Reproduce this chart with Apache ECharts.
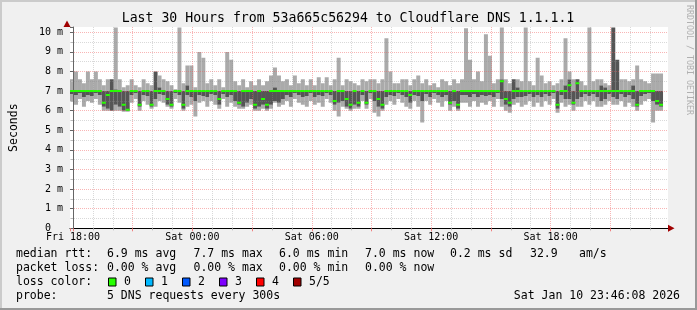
<!DOCTYPE html>
<html><head><meta charset="utf-8">
<script src="https://cdn.jsdelivr.net/npm/echarts@6/dist/echarts.min.js"></script>
<style>html,body{margin:0;padding:0;background:#f0f0f0}#c{width:697px;height:310px}</style>
</head><body><div id="c"></div>
<script>
// ---- data (hours relative to Fri 18:00, one column per 12 min) ----
const START_H = -0.15;
const STEP_H = 0.2;
const xTickLabels = {0:'Fri 18:00', 6:'Sat 00:00', 12:'Sat 06:00', 18:'Sat 12:00', 24:'Sat 18:00'};
const yTickLabels = [0,1,2,3,4,5,6,7,8,9,10];
// values in ms
const maxv = [7.6,8.0,7.6,7.4,8.0,7.6,8.0,7.6,7.3,7.6,7.6,10.25,7.6,7.2,7.3,7.6,7.3,7.2,7.6,7.4,
7.3,8.0,7.8,7.6,7.5,7.3,7.1,10.25,7.4,8.3,8.3,7.2,9.0,8.7,7.4,7.6,7.3,7.6,7.2,9.0,
8.6,7.5,7.3,7.6,7.2,7.5,7.3,7.6,7.3,7.5,7.8,8.2,7.8,7.5,7.6,7.3,7.8,7.4,7.6,7.3,
7.6,7.3,7.7,7.4,7.7,7.3,7.6,8.7,7.3,7.6,7.5,7.4,7.3,7.6,7.5,7.6,7.6,7.4,7.6,9.7,
8.0,7.4,7.4,7.6,7.6,7.3,7.6,7.8,7.4,7.6,7.3,7.4,7.2,7.6,7.5,7.3,7.6,7.4,7.6,10.2,
8.6,7.6,8.0,7.5,9.9,8.8,7.4,7.6,10.25,7.6,7.4,7.6,7.6,7.5,10.25,7.5,7.3,8.7,7.8,7.4,
7.5,7.3,7.4,7.6,9.7,8.0,7.6,7.6,7.5,7.3,10.25,7.5,7.6,7.6,7.4,7.3,10.25,8.6,7.6,7.6,
7.5,7.6,8.3,7.6,7.5,7.4,7.9,7.9,7.9];
const q3v = [7.0,7.0,7.0,7.0,7.0,7.0,7.0,7.0,7.0,7.0,7.6,7.1,7.0,7.0,7.0,7.0,7.0,7.0,7.0,7.0,
7.0,8.0,7.2,7.0,7.0,7.0,7.0,7.0,7.0,7.3,7.0,7.0,7.0,7.0,7.0,7.0,7.0,7.0,7.0,7.0,
7.0,7.0,7.0,7.0,7.0,7.0,7.0,7.0,7.0,7.0,7.0,7.2,7.0,7.0,7.0,7.0,7.0,7.0,7.0,7.0,
7.0,7.0,7.0,7.0,7.0,7.0,7.0,7.0,7.0,7.0,7.0,7.0,7.0,7.0,7.0,7.0,7.0,7.0,7.0,7.0,
7.0,7.0,7.0,7.0,7.0,7.0,7.0,7.0,7.0,7.0,7.0,7.0,7.0,7.0,7.0,7.0,7.0,7.0,7.0,7.0,
7.0,7.0,7.0,7.0,7.0,7.0,7.0,7.0,7.6,7.0,7.0,7.6,7.2,7.0,7.0,7.0,7.0,7.0,7.0,7.0,
7.0,7.0,7.0,7.0,7.3,7.6,7.0,7.6,7.0,7.0,7.0,7.0,7.0,7.3,7.2,7.0,10.25,8.6,7.0,7.0,
7.0,7.3,7.0,7.0,7.0,7.0,7.0,7.0,7.0];
const medv = [7.0,7.0,7.0,7.0,7.0,7.0,7.0,7.0,6.4,6.8,7.0,7.0,7.0,6.3,6.05,7.0,7.0,6.3,7.0,7.0,
6.3,7.0,7.0,7.0,6.6,6.3,7.0,7.0,6.3,7.0,7.0,7.0,7.0,7.0,7.0,7.0,7.0,6.6,7.0,7.0,
7.0,7.0,6.4,7.0,7.0,7.0,6.3,7.0,6.6,6.3,7.0,7.0,7.0,7.0,7.0,7.0,7.0,7.0,7.0,7.0,
7.0,7.0,7.0,7.0,7.0,7.0,6.5,7.0,7.0,6.6,6.3,7.0,6.4,7.0,6.4,7.0,7.0,6.6,6.3,7.0,
7.0,7.0,7.0,7.0,7.0,6.8,7.0,7.0,7.0,7.0,7.0,7.0,7.0,7.0,7.0,6.4,7.0,6.3,7.0,7.0,
7.0,7.0,7.0,7.0,7.0,7.0,7.0,7.0,7.5,6.6,6.4,7.0,7.0,7.0,7.0,7.0,7.0,7.0,7.0,7.0,
7.0,7.0,6.3,7.0,7.0,7.3,6.4,7.4,7.0,7.0,7.0,7.0,7.0,7.0,7.0,7.0,7.0,7.0,7.0,7.0,
7.0,7.0,6.3,7.0,7.0,7.0,7.0,6.5,6.3];
const q1v = [6.85,6.8,6.9,6.7,6.8,6.75,6.9,6.8,6.2,6.1,
6.0,6.3,6.2,6.0,6.0,6.8,6.9,6.2,6.8,6.75,
6.2,6.6,6.85,6.8,6.3,6.2,6.9,6.8,6.1,6.8,
6.7,6.5,6.8,6.75,6.7,6.85,6.8,6.3,6.85,6.7,
6.8,6.5,6.3,6.2,6.4,6.6,6.1,6.2,6.3,6.1,
6.3,6.5,6.4,6.6,6.8,6.7,6.9,6.8,6.7,6.75,
6.9,6.7,6.8,6.75,6.9,6.8,6.3,6.4,6.5,6.2,
6.1,6.3,6.2,6.8,6.3,6.9,6.5,6.2,6.1,6.7,
6.8,6.75,6.9,6.8,6.7,6.4,6.8,6.75,6.5,6.85,
6.7,6.9,6.8,6.7,6.8,6.3,6.5,6.1,6.8,6.8,
6.7,6.85,6.7,6.8,6.75,6.8,6.7,6.9,6.6,6.3,
6.2,6.6,6.7,6.7,6.75,6.85,6.7,6.8,6.7,6.85,
6.75,6.9,6.1,6.8,6.6,6.6,6.3,6.6,6.7,6.85,
6.75,6.85,6.7,6.5,6.6,6.85,6.7,6.6,6.85,6.7,
6.8,6.6,6.2,6.75,6.85,6.9,6.5,6.3,6.2];
const minv = [6.5,6.3,6.6,6.2,6.5,6.4,6.6,6.3,6.0,6.0,
6.0,6.0,6.0,5.95,5.95,6.4,6.6,6.0,6.5,6.3,
6.1,6.2,6.5,6.4,6.2,6.1,6.6,6.4,6.0,6.2,
6.3,5.7,6.4,6.5,6.2,6.5,6.3,6.1,6.6,6.2,
6.4,6.2,6.1,6.1,6.2,6.3,6.0,6.0,6.1,6.0,
6.1,6.4,6.2,6.3,6.5,6.2,6.6,6.4,6.3,6.2,
6.5,6.3,6.4,6.2,6.6,6.4,6.0,5.7,6.2,6.1,
6.0,6.1,6.1,6.5,6.1,6.6,5.9,5.7,6.0,6.3,
6.5,6.3,6.6,6.4,6.2,6.1,6.5,6.2,5.4,6.5,
6.3,6.6,6.4,6.2,6.5,6.0,6.2,6.0,6.4,6.4,
6.2,6.5,6.2,6.4,6.3,6.5,6.2,6.6,6.2,6.0,
5.9,6.3,6.4,6.2,6.3,6.5,6.2,6.4,6.2,6.5,
6.3,6.6,5.9,6.4,6.2,6.3,6.0,6.2,6.2,6.5,
6.3,6.5,6.2,6.2,6.3,6.5,6.3,6.3,6.5,6.2,
6.4,6.2,6.0,6.3,6.5,6.6,5.4,6.0,6.0];
const lossv = maxv.map(() => 0); // 0 of 5 lost for every column
const lossColors = ['#26ff00','#00b8ff','#0059ff','#7e00ff','#ff0000','#a10000'];
const lossLabels = ['0','1','2','3','4','5/5'];

// ---- build data tables ----
const smokeData = maxv.map((mx, i) => {
  const t0 = START_H + STEP_H * i;
  return [t0, t0 + STEP_H, minv[i], q1v[i], q3v[i], mx];
});
const medData = medv.map((m, i) => {
  const t0 = START_H + STEP_H * i;
  return [t0, t0 + STEP_H, m, lossv[i]];
});

const MONO = 'DejaVu Sans Mono';
const LIGHT = '#aaaaaa', DARK = '#555555';

function smokeItem(params, api) {
  const t0 = api.value(0), t1 = api.value(1);
  const vals = [api.value(2), api.value(3), api.value(4), api.value(5)];
  const cols = [LIGHT, DARK, LIGHT];
  const children = [];
  for (let k = 0; k < 3; k++) {
    if (vals[k + 1] <= vals[k]) continue;
    const p0 = api.coord([t0, vals[k + 1]]);
    const p1 = api.coord([t1, vals[k]]);
    children.push({type: 'rect', shape: {x: p0[0], y: p0[1], width: p1[0] - p0[0], height: p1[1] - p0[1]}, style: {fill: cols[k]}});
  }
  return {type: 'group', children};
}
function medItem(params, api) {
  const p0 = api.coord([api.value(0), api.value(2)]);
  const p1 = api.coord([api.value(1), api.value(2)]);
  return {type: 'line', shape: {x1: p0[0], y1: p0[1], x2: p1[0], y2: p1[1]},
    style: {stroke: lossColors[api.value(3)], lineWidth: 2}};
}

const chart = echarts.init(document.getElementById('c'), null, {renderer: 'canvas'});

const legendRows = [
  {y: 254.5, items: [[16,'median rtt:'],[107,'6.9 ms avg'],[193.5,'7.7 ms max'],[279,'6.0 ms min'],[365,'7.0 ms now'],[450,'0.2 ms sd'],[530,'32.9'],[579,'am/s']]},
  {y: 268, items: [[16,'packet loss:'],[107,'0.00 % avg'],[193.5,'0.00 % max'],[279,'0.00 % min'],[365,'0.00 % now']]},
  {y: 282, items: [[16,'loss color:']]},
  {y: 296, items: [[16,'probe:'],[107,'5 DNS requests every 300s']]}
];
const graphics = [];
// frame
graphics.push({type:'line', shape:{x1:1,y1:0,x2:1,y2:310}, style:{stroke:'#cbcbcb', lineWidth:2}});
graphics.push({type:'line', shape:{x1:0,y1:1,x2:697,y2:1}, style:{stroke:'#cbcbcb', lineWidth:2}});
graphics.push({type:'line', shape:{x1:696,y1:0,x2:696,y2:310}, style:{stroke:'#999999', lineWidth:2}});
graphics.push({type:'line', shape:{x1:0,y1:309,x2:697,y2:309}, style:{stroke:'#999999', lineWidth:2}});
// title
graphics.push({type:'text', x:348, y:19, style:{text:'Last 30 Hours from 53a665c56294 to Cloudflare DNS 1.1.1.1', font:'13.2px ' + MONO, fill:'#000', textAlign:'center', textVerticalAlign:'middle'}});
// rrdtool credit
graphics.push({type:'text', x:689, y:5, rotation:-Math.PI/2, style:{text:'RRDTOOL / TOBI OETIKER', font:'8.3px ' + MONO, fill:'#b0b0b0', textAlign:'left', textVerticalAlign:'middle'}});
// legend text
legendRows.forEach(r => r.items.forEach(([x, t]) => {
  graphics.push({type:'text', x, y:r.y, style:{text:t, font:'11.5px ' + MONO, fill:'#000', textAlign:'left', textVerticalAlign:'middle'}});
}));
const boxX = [108.5,145.5,182.5,219.5,256.5,293.5];
lossColors.forEach((c, k) => {
  graphics.push({type:'rect', shape:{x:boxX[k], y:278, width:7.5, height:8}, style:{fill:c, stroke:'#000', lineWidth:1}});
  graphics.push({type:'text', x:boxX[k] + 15.5, y:282, style:{text:lossLabels[k], font:'11.5px ' + MONO, fill:'#000', textAlign:'left', textVerticalAlign:'middle'}});
});
graphics.push({type:'text', x:680, y:296, style:{text:'Sat Jan 10 23:46:08 2026', font:'11.5px ' + MONO, fill:'#000', textAlign:'right', textVerticalAlign:'middle'}});
// axis arrows
graphics.push({type:'polygon', z:10, shape:{points:[[63.5,27],[70.5,27],[67,20.5]]}, style:{fill:'#a00000'}});
graphics.push({type:'polygon', z:10, shape:{points:[[668,224.8],[668,231.8],[674.5,228.3]]}, style:{fill:'#a00000'}});

const option = {
  backgroundColor: '#f0f0f0',
  animation: false,
  grid: {left: 67, right: 29, top: 27, bottom: 81.7, show: true, backgroundColor: '#ffffff', borderWidth: 0, containLabel: false},
  xAxis: {
    type: 'value', min: START_H, max: 29.9, splitNumber: 10, minInterval: 3, maxInterval: 3, z: 3,
    axisLine: {show: true, onZero: false, lineStyle: {color: '#000', width: 1}},
    axisTick: {show: true, length: 3, lineStyle: {color: '#f08080'}},
    minorTick: {show: true, splitNumber: 3, length: 2, lineStyle: {color: '#bbbbbb'}},
    axisLabel: {margin: 4, fontFamily: MONO, fontSize: 10, color: '#000', showMinLabel: false, showMaxLabel: false,
      formatter: v => { const k = Math.round(v); return (Math.abs(v - k) < 1e-6 && xTickLabels[k] !== undefined) ? xTickLabels[k] : ''; }},
    splitLine: {show: true, showMinLine: false, showMaxLine: false, lineStyle: {color: 'rgba(240,90,90,0.45)', type: [1,1], width: 1}},
    minorSplitLine: {show: true, lineStyle: {color: 'rgba(140,140,140,0.33)', type: [1,1], width: 1}}
  },
  yAxis: {
    type: 'value', min: 0, max: 10.27, interval: 1, z: 3,
    name: 'Seconds', nameLocation: 'middle', nameGap: 50, nameRotate: 90,
    nameTextStyle: {fontFamily: MONO, fontSize: 11.5, color: '#000'},
    axisLine: {show: true, lineStyle: {color: '#666', width: 1}},
    axisTick: {show: true, length: 3, lineStyle: {color: '#666'}},
    minorTick: {show: true, splitNumber: 2, length: 2, lineStyle: {color: '#bbbbbb'}},
    axisLabel: {margin: 7, fontFamily: MONO, fontSize: 10, color: '#000', showMaxLabel: false,
      formatter: v => { const k = Math.round(v); if (Math.abs(v - k) > 1e-6 || yTickLabels.indexOf(k) < 0) return ''; return k === 0 ? '0  ' : k + ' m'; }},
    splitLine: {show: true, showMinLine: false, showMaxLine: false, lineStyle: {color: 'rgba(240,90,90,0.45)', type: [1,1], width: 1}},
    minorSplitLine: {show: true, lineStyle: {color: 'rgba(140,140,140,0.33)', type: [1,1], width: 1}}
  },
  graphic: graphics,
  series: [
    {type: 'custom', name: 'smoke', renderItem: smokeItem, data: smokeData, z: 2, clip: true,
      encode: {x: [0, 1], y: [2, 3, 4, 5]}, silent: true},
    {type: 'custom', name: 'median', renderItem: medItem, data: medData, z: 4, clip: true,
      encode: {x: [0, 1], y: 2}, silent: true}
  ]
};
chart.setOption(option);
</script>
</body></html>
